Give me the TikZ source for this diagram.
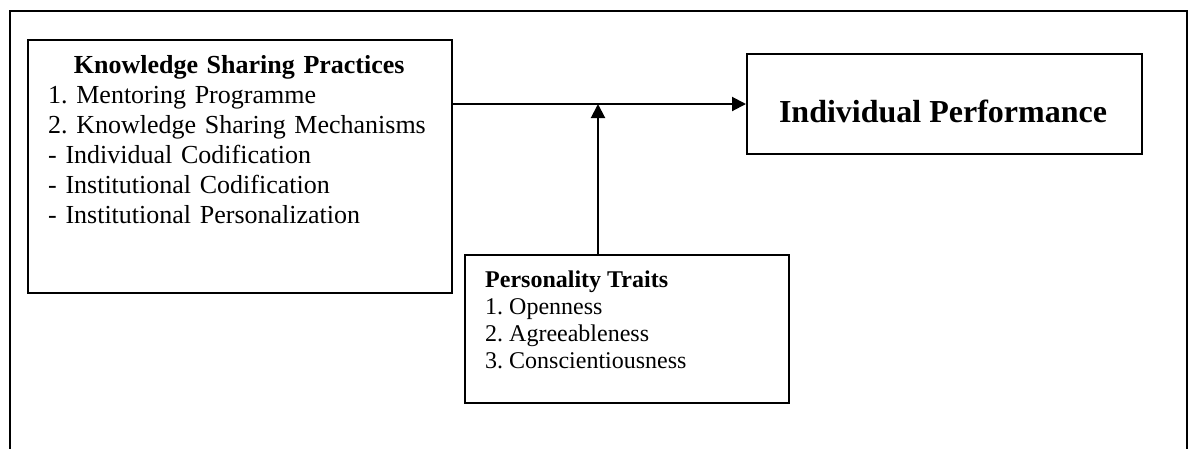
\documentclass[tikz,border=0pt]{standalone}
\usepackage{fontspec}
\setmainfont{Liberation Serif}
\usetikzlibrary{arrows.meta}
\frenchspacing

\begin{document}
\begin{tikzpicture}[x=1pt,y=-1pt,box/.style={draw,line width=1.8pt,inner sep=0pt,anchor=north west},txt/.style={inner sep=0pt,anchor=north west,align=left},arr/.style={line width=2pt,-{Triangle[length=14pt,width=14pt]}}]
	\useasboundingbox (0,0) rectangle (1193,448);
	\clip (0,0) rectangle (1193,448);
	% frame
	\draw[line width=2pt] (10,11) rectangle (1187,470);
	% boxes
	\node[box,minimum width=424pt,minimum height=253pt] (ksp) at (27,39) {};
	\node[box,minimum width=395pt,minimum height=100pt] (ip) at (746,53) {};
	\node[box,minimum width=324pt,minimum height=148pt] (pt) at (464,254) {};
	% texts
	\node[txt,text width=382pt,font=\fontsize{26}{30}\selectfont] (ksptext) at (48,55) {{\centering\bfseries Knowledge Sharing Practices\par}
		1. Mentoring Programme\\
		2. Knowledge Sharing Mechanisms\\
		- Individual Codification\\
		- Institutional Codification\\
		- Institutional Personalization};
	\node[inner sep=0pt,anchor=base,font=\fontsize{32}{36}\selectfont\bfseries] (iptext) at (943,122) {Individual Performance};
	\node[txt,font=\fontsize{24}{27}\selectfont] (pttext) at (485,271) {\textbf{Personality Traits}\\
		1. Openness\\
		2. Agreeableness\\
		3. Conscientiousness};
	% arrows
	\coordinate (join) at (598,104);
	\draw[arr] (ksp.east|-join) -- (ip.west|-join);
	\draw[arr] (pt.north-|join) -- (join);
\end{tikzpicture}
\end{document}
